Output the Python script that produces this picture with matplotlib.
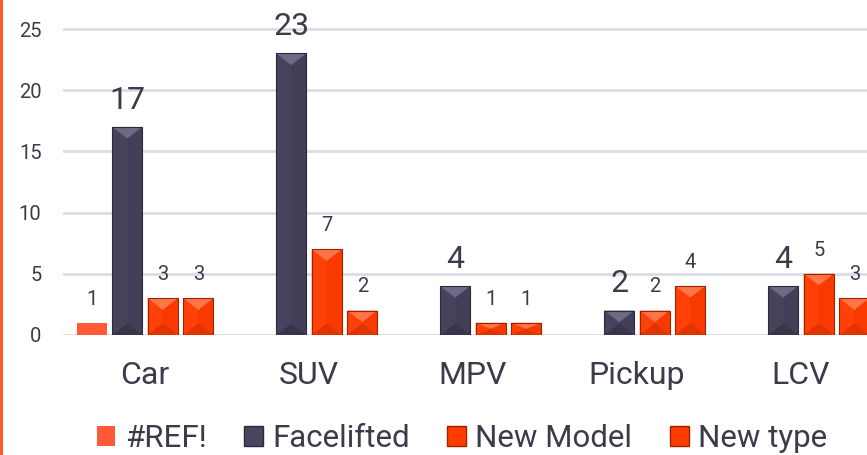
import numpy as np
import matplotlib
matplotlib.use("Agg")
import matplotlib.pyplot as plt
from matplotlib.patches import Polygon, Rectangle, Patch

plt.rcParams['font.family'] = ['Roboto', 'DejaVu Sans']

categories = ["Car", "SUV", "MPV", "Pickup", "LCV"]
series_names = ["#REF!", "Facelifted", "New Model", "New type"]
ref_vals = [1, 0, 0, 0, 0]
facelifted = [17, 23, 4, 2, 4]
new_model = [3, 7, 1, 2, 5]
new_type = [3, 2, 1, 4, 3]
y_ticks = [0, 5, 10, 15, 20, 25]

TEXT = "#3b3b4b"
GRID = "#dcdce6"

# (base, top, bottom, left, right, edge)
NAVY = ("#48455f", "#6d6a86", "#38364c", "#46435d", "#424059", "#2a2839")
ORANGE = ("#ff3c00", "#ff7448", "#e03300", "#ff4008", "#f83a00", "#9a2300")
REF_COLOR = "#ff5a35"

fig = plt.figure(figsize=(8.67, 4.55), dpi=100)
ax = fig.add_axes([63 / 867, 120 / 455, 820 / 867, 335 / 455])
ax.set_xlim(-0.5, 4.5)
ax.set_ylim(0, 27.37)

for s in ax.spines.values():
    s.set_visible(False)
ax.set_yticks(y_ticks)
ax.yaxis.grid(True, color=GRID, linewidth=2)
ax.set_axisbelow(True)
ax.tick_params(axis="y", length=0, pad=15.5, labelsize=14.5, labelcolor=TEXT)
ax.set_xticks(range(len(categories)))
ax.set_xticklabels(categories)
ax.tick_params(axis="x", length=0, pad=19, labelsize=23, labelcolor=TEXT)

slot = 0.2165
width = 0.183


def bevel_bar(x, h, colors):
    base, top, bot, left, right, edge = colors
    x0, x1 = x - width / 2, x + width / 2
    xc = x
    d = min(0.95, h / 2)
    ax.add_patch(Rectangle((x0, 0), width, h, facecolor=base, edgecolor="none", zorder=3))
    ax.add_patch(Polygon([(x0, h), (x0, 0), (xc, d), (xc, h - d)], closed=True,
                         facecolor=left, edgecolor="none", zorder=3))
    ax.add_patch(Polygon([(x1, h), (x1, 0), (xc, d), (xc, h - d)], closed=True,
                         facecolor=right, edgecolor="none", zorder=3))
    ax.add_patch(Polygon([(x0, h), (x1, h), (xc, h - d)], closed=True,
                         facecolor=top, edgecolor="none", zorder=3))
    ax.add_patch(Polygon([(x0, 0), (x1, 0), (xc, d)], closed=True,
                         facecolor=bot, edgecolor="none", zorder=3))
    ax.add_patch(Rectangle((x0, 0), width, h, facecolor="none", edgecolor=edge,
                           linewidth=0.8, zorder=4))


all_series = [ref_vals, facelifted, new_model, new_type]
for si, vals in enumerate(all_series):
    for ci, v in enumerate(vals):
        if not v:
            continue
        x = ci + (si - 1.5) * slot
        if si == 0:
            ax.bar(x, v, width=width, color=REF_COLOR, zorder=3)
        elif si == 1:
            bevel_bar(x, v, NAVY)
        else:
            bevel_bar(x, v, ORANGE)
        size = 23 if si == 1 else 14.5
        ax.annotate(str(v), (x, v), xytext=(0, 13), textcoords="offset points",
                    ha="center", va="baseline", fontsize=size, color=TEXT, zorder=5)

# orange bar on the left edge
fig.add_artist(Rectangle((0, 0), 3 / 867, 1, transform=fig.transFigure,
                         facecolor="#ff5a2a", edgecolor="none"))

handles = [
    Patch(facecolor=REF_COLOR, edgecolor="none"),
    Patch(facecolor=NAVY[0], edgecolor=NAVY[5]),
    Patch(facecolor=ORANGE[0], edgecolor=ORANGE[5]),
    Patch(facecolor=ORANGE[0], edgecolor=ORANGE[5]),
]
leg = fig.legend(handles, series_names, loc="center", bbox_to_anchor=(462 / 867, 0.037),
                 ncol=4, frameon=False, fontsize=22.5, handlelength=0.6,
                 handleheight=0.6, handletextpad=0.3, columnspacing=1.2)
for t in leg.get_texts():
    t.set_color(TEXT)

fig.savefig("out.png", dpi=100)
